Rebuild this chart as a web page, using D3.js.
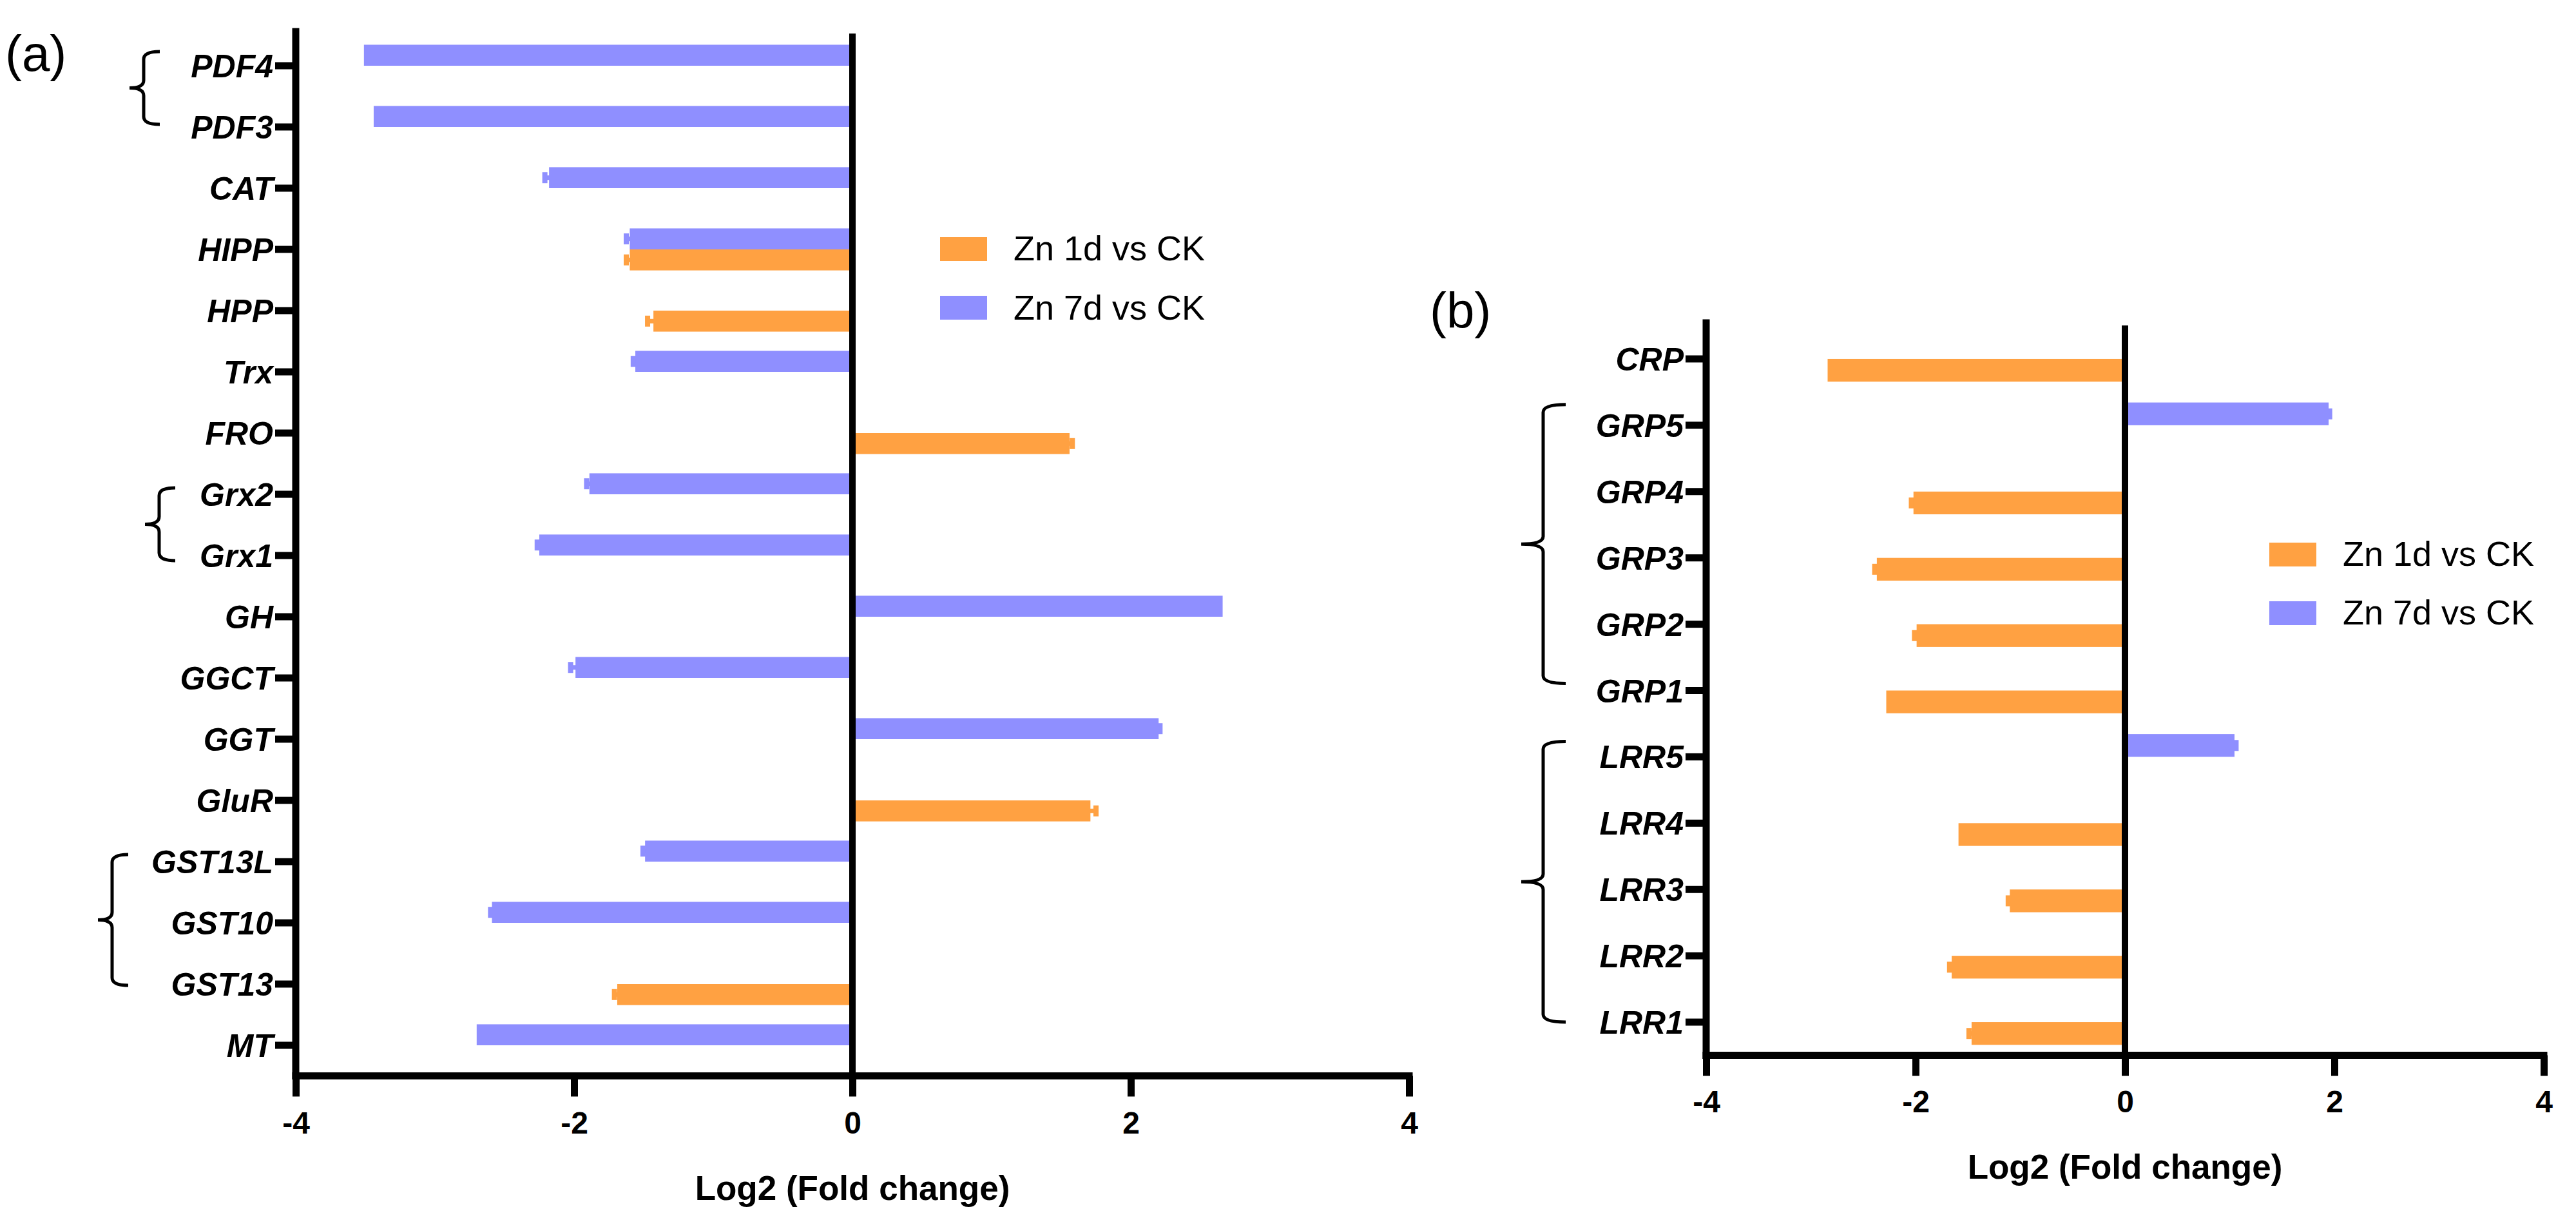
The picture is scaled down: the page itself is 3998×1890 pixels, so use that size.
<!DOCTYPE html>
<html><head><meta charset="utf-8">
<script src="https://cdn.jsdelivr.net/npm/d3@7"></script>
<style>
body{margin:0;background:#fff}
svg{display:block}
text{font-family:"Liberation Sans",Arial,sans-serif}
</style>
</head><body><svg id="c"></svg>
<script>
// ---------- DATA ----------
const seriesNames = ["Zn 1d vs CK", "Zn 7d vs CK"];
const seriesColors = ["#FFA142", "#8F8FFF"];
const xTickValues = [-4, -2, 0, 2, 4];
const axisTitle = "Log2 (Fold change)";

const genesA = ["PDF4","PDF3","CAT","HIPP","HPP","Trx","FRO","Grx2","Grx1","GH","GGCT","GGT","GluR","GST13L","GST10","GST13","MT"];
const zn1dA    = [null,null,null,-1.60,-1.43,null,1.56,null,null,null,null,null,1.71,null,null,-1.69,null];
const zn1dErrA = [0,0,0,0.025,0.042,0,0.02,0,0,0,0,0,0.04,0,0,0.02,0];
const zn7dA    = [-3.51,-3.44,-2.18,-1.60,null,-1.56,null,-1.89,-2.25,2.66,-1.99,2.20,null,-1.49,-2.59,null,-2.70];
const zn7dErrA = [0,0,0.03,0.025,0,0.015,0,0.02,0.015,0,0.035,0.01,0,0.015,0.01,0,0];

const genesB = ["CRP","GRP5","GRP4","GRP3","GRP2","GRP1","LRR5","LRR4","LRR3","LRR2","LRR1"];
const zn1dB    = [-2.84,null,-2.02,-2.37,-1.99,-2.28,null,-1.59,-1.10,-1.655,-1.465];
const zn1dErrB = [0,0,0.02,0.02,0.02,0,0,0,0.015,0.02,0.025];
const zn7dB    = [null,1.945,null,null,null,null,1.046,null,null,null,null];
const zn7dErrB = [0,0.01,0,0,0,0,0.015,0,0,0,0];

// ---------- LAYOUT ----------
const FONT = "'Liberation Sans', Arial, sans-serif";
const W = 3998, H = 1890;
const svg = d3.select("#c").attr("width", W).attr("height", H);
svg.append("rect").attr("width", W).attr("height", H).attr("fill", "#fff");

const panels = [
  { tag: "(a)", tagX: 8, tagY: 110,
    genes: genesA, v1: zn1dA, e1: zn1dErrA, v7: zn7dA, e7: zn7dErrA,
    xr: [459, 2187], yr: [54.5, 1669.5], axisTop: 49, zeroTop: 52,
    tickLabelY: 1759, titleY: 1862,
    legend: { x: 1459, y: [368, 459], w: 73, h: 37, tx: 1573, ty: [404, 496] },
    braces: [
      { from: "PDF4", to: "PDF3", dx: -236, dt: -22, db: -4, tip: -22, end: 25 },
      { from: "Grx2", to: "Grx1", dx: -212, dt: -10, db: 8, tip: -22, end: 25 },
      { from: "GST13L", to: "GST13", dx: -285, dt: -11, db: 2, tip: -22, end: 25 }
    ] },
  { tag: "(b)", tagX: 2219, tagY: 509,
    genes: genesB, v1: zn1dB, e1: zn1dErrB, v7: zn7dB, e7: zn7dErrB,
    xr: [2648, 3948], yr: [505.5, 1637.5], axisTop: 501, zeroTop: 505,
    tickLabelY: 1726, titleY: 1829,
    legend: { x: 3522, y: [842, 933], w: 73, h: 37, tx: 3636, ty: [878, 969] },
    braces: [
      { from: "GRP5", to: "GRP1", dx: -253, dt: -32, db: -11, tip: -34, end: 35 },
      { from: "LRR5", to: "LRR1", dx: -253, dt: -24, db: 0, tip: -34, end: 35 }
    ] }
];

const AX = 11; // axis stroke

panels.forEach(p => {
  const g = svg.append("g");
  const x = d3.scaleLinear().domain([xTickValues[0], xTickValues[xTickValues.length - 1]]).range(p.xr);
  const y = d3.scaleBand().domain(p.genes).range(p.yr).padding(0);
  const step = y.step();
  const bh = step * 0.343;
  const cy = d => y(d) + step / 2;
  const xAxisY = p.yr[1];

  const bars = [];
  p.genes.forEach((gene, i) => {
    if (p.v1[i] != null) bars.push({ gene, v: p.v1[i], e: p.e1[i], k: 0 });
    if (p.v7[i] != null) bars.push({ gene, v: p.v7[i], e: p.e7[i], k: 1 });
  });
  const by = d => d.k === 1 ? cy(d.gene) - bh : cy(d.gene);

  // error bars
  const eb = g.append("g");
  bars.filter(d => d.e > 0).forEach(d => {
    const sgn = d.v < 0 ? -1 : 1;
    const yc = by(d) + bh / 2;
    const xe = x(d.v + sgn * d.e);
    eb.append("line").attr("x1", x(d.v) - sgn * 2).attr("x2", xe).attr("y1", yc).attr("y2", yc)
      .attr("stroke", seriesColors[d.k]).attr("stroke-width", 7);
    eb.append("line").attr("x1", xe).attr("x2", xe).attr("y1", yc - 8.5).attr("y2", yc + 8.5)
      .attr("stroke", seriesColors[d.k]).attr("stroke-width", 8);
  });

  g.append("g").selectAll("rect").data(bars).join("rect")
    .attr("x", d => Math.min(x(0), x(d.v)))
    .attr("width", d => Math.abs(x(d.v) - x(0)))
    .attr("y", by).attr("height", bh)
    .attr("fill", d => seriesColors[d.k]);

  // x axis
  const xa = g.append("g").attr("transform", `translate(0,${xAxisY})`)
    .call(d3.axisBottom(x).tickValues(xTickValues).tickSize(32).tickSizeOuter(0).tickFormat(d => String(d)));
  xa.select(".domain").remove();
  xa.append("line").attr("x1", x.range()[0]).attr("x2", x.range()[1]).attr("y1", 0).attr("y2", 0)
    .attr("stroke", "#000").attr("stroke-width", AX).attr("stroke-linecap", "square");
  xa.selectAll(".tick line").attr("stroke", "#000").attr("stroke-width", AX);
  xa.selectAll(".tick text").attr("y", p.tickLabelY - xAxisY).attr("dy", null)
    .attr("fill", "#000").attr("font-size", 48).attr("font-weight", "bold")
    .style("font-family", FONT);

  // zero line
  g.append("line").attr("x1", x(0)).attr("x2", x(0)).attr("y1", p.zeroTop).attr("y2", xAxisY)
    .attr("stroke", "#000").attr("stroke-width", 10);

  // y axis
  const ya = g.append("g").attr("transform", `translate(${x.range()[0]},0)`)
    .call(d3.axisLeft(y).tickSize(32).tickPadding(3).tickSizeOuter(0));
  ya.select(".domain").remove();
  ya.append("line").attr("x1", 0).attr("x2", 0).attr("y1", p.axisTop).attr("y2", xAxisY)
    .attr("stroke", "#000").attr("stroke-width", AX).attr("stroke-linecap", "square");
  ya.selectAll(".tick line").attr("stroke", "#000").attr("stroke-width", AX);
  ya.selectAll(".tick text").attr("fill", "#000").attr("font-size", 50)
    .attr("font-weight", "bold").attr("font-style", "italic").attr("dy", "0.36em")
    .style("font-family", FONT);

  // axis title
  g.append("text").attr("x", x(0)).attr("y", p.titleY).attr("text-anchor", "middle")
    .attr("font-size", 53).attr("font-weight", "bold").style("font-family", FONT).text(axisTitle);

  // panel tag
  g.append("text").attr("x", p.tagX).attr("y", p.tagY).attr("font-size", 78)
    .style("font-family", FONT).text(p.tag);

  // legend
  seriesNames.forEach((n, k) => {
    g.append("rect").attr("x", p.legend.x).attr("y", p.legend.y[k])
      .attr("width", p.legend.w).attr("height", p.legend.h).attr("fill", seriesColors[k]);
    g.append("text").attr("x", p.legend.tx).attr("y", p.legend.ty[k])
      .attr("font-size", 54).style("font-family", FONT).text(n);
  });

  // braces
  p.braces.forEach(b => {
    const xv = x.range()[0] + b.dx;
    const top = cy(b.from) + b.dt, bot = cy(b.to) + b.db;
    const mid = (top + bot) / 2;
    const xt = xv + b.tip, xe = xv + b.end;
    const r = 12;
    const path = d3.path();
    path.moveTo(xe, top);
    path.quadraticCurveTo(xv, top, xv, top + r);
    path.lineTo(xv, mid - r);
    path.quadraticCurveTo(xv, mid, xt, mid);
    path.quadraticCurveTo(xv, mid, xv, mid + r);
    path.lineTo(xv, bot - r);
    path.quadraticCurveTo(xv, bot, xe, bot);
    g.append("path").attr("d", path.toString()).attr("fill", "none")
      .attr("stroke", "#000").attr("stroke-width", 5);
  });
});
</script>
</body></html>
